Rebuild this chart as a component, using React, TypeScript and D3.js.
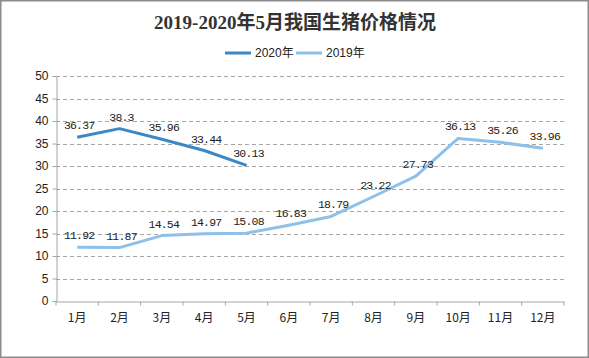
import React, { useEffect, useRef } from "react";
import * as d3 from "d3";

const months = ["1月", "2月", "3月", "4月", "5月", "6月", "7月", "8月", "9月", "10月", "11月", "12月"];
const price2020 = [36.37, 38.3, 35.96, 33.44, 30.13];
const price2019 = [11.92, 11.87, 14.54, 14.97, 15.08, 16.83, 18.79, 23.22, 27.73, 36.13, 35.26, 33.96];
const yTicks = [0, 5, 10, 15, 20, 25, 30, 35, 40, 45, 50];

const W = 589;
const H = 358;
const margin = { top: 76, right: 25, bottom: 57, left: 56 };
const color2020 = "#3b88c6";
const color2019 = "#8dc1e9";

const App = () => {
  const ref = useRef<SVGSVGElement>(null);

  useEffect(() => {
    const svg = d3.select(ref.current);
    svg.selectAll("*").remove();

    svg.append("rect")
      .attr("x", 0.75).attr("y", 0.75)
      .attr("width", W - 1.5).attr("height", H - 1.5)
      .attr("fill", "#fff").attr("stroke", "#8c8c8c").attr("stroke-width", 1.5);

    const x = d3.scaleBand().domain(months).range([margin.left, W - margin.right]);
    const y = d3.scaleLinear().domain([0, 50]).range([H - margin.bottom, margin.top]);
    const cx = (m: string) => (x(m) as number) + x.bandwidth() / 2;

    // title
    svg.append("text")
      .attr("x", 295).attr("y", 29)
      .attr("text-anchor", "middle")
      .style("font-family", "'Liberation Serif', 'Noto Sans CJK SC'")
      .style("font-size", "19px").style("font-weight", "bold")
      .attr("fill", "#333")
      .text("2019-2020年5月我国生猪价格情况");

    // legend
    const legend = [
      { name: "2020年", color: color2020, x: 225 },
      { name: "2019年", color: color2019, x: 296 },
    ];
    const lg = svg.append("g");
    legend.forEach((d) => {
      lg.append("line").attr("x1", d.x).attr("x2", d.x + 26).attr("y1", 53).attr("y2", 53)
        .attr("stroke", d.color).attr("stroke-width", 3);
      lg.append("text").attr("x", d.x + 30).attr("y", 57)
        .style("font-family", "'Liberation Sans', 'Noto Sans CJK SC'").style("font-size", "12px")
        .attr("fill", "#222").text(d.name);
    });

    // grid
    svg.append("g").selectAll("line").data(yTicks.filter((t) => t > 0)).enter().append("line")
      .attr("x1", margin.left).attr("x2", W - margin.right)
      .attr("y1", (d) => Math.round(y(d)) + 0.5).attr("y2", (d) => Math.round(y(d)) + 0.5)
      .attr("stroke", "#a6a6a6").attr("stroke-dasharray", "4,3");

    // y axis
    const yAxis = svg.append("g")
      .attr("transform", `translate(${margin.left + 0.5},0)`)
      .call(d3.axisLeft(y).tickValues(yTicks).tickSize(4).tickPadding(4));
    yAxis.select(".domain").attr("stroke", "#a6a6a6");
    yAxis.selectAll(".tick line").attr("stroke", "#a6a6a6");
    yAxis.selectAll("text").style("font-family", "'Liberation Sans'").style("font-size", "12px").attr("fill", "#222");

    // x axis
    const xAxis = svg.append("g")
      .attr("transform", `translate(0,${Math.round(y(0)) + 0.5})`)
      .call(d3.axisBottom(x).tickSize(0).tickPadding(12));
    xAxis.select(".domain").attr("stroke", "#a6a6a6");
    xAxis.selectAll("text").style("font-family", "'Noto Sans CJK SC'").style("font-size", "12px").attr("fill", "#222");
    xAxis.selectAll(".sep").data(months.concat([""])).enter().append("line")
      .attr("x1", (_, i) => margin.left + i * x.bandwidth()).attr("x2", (_, i) => margin.left + i * x.bandwidth())
      .attr("y1", 0).attr("y2", 4).attr("stroke", "#a6a6a6");

    const line = d3.line<number>().x((_, i) => cx(months[i])).y((d) => y(d));

    const series = [
      { data: price2019, color: color2019 },
      { data: price2020, color: color2020 },
    ];
    series.forEach((s) => {
      svg.append("path").datum(s.data).attr("d", line)
        .attr("fill", "none").attr("stroke", s.color).attr("stroke-width", 3)
        .attr("stroke-linejoin", "round");
      svg.append("g").selectAll("text").data(s.data).enter().append("text")
        .attr("x", (_, i) => cx(months[i]) + 2)
        .attr("y", (d) => y(d) - 8)
        .attr("text-anchor", "middle")
        .style("font-family", "'Liberation Mono'").style("font-size", "11.5px")
        .style("letter-spacing", "-0.8px")
        .attr("fill", "#222")
        .text((d) => String(d));
    });
  }, []);

  return (
    <svg ref={ref} width={W} height={H} style={{ position: "absolute", left: 0, top: 0 }} />
  );
};

export default App;
